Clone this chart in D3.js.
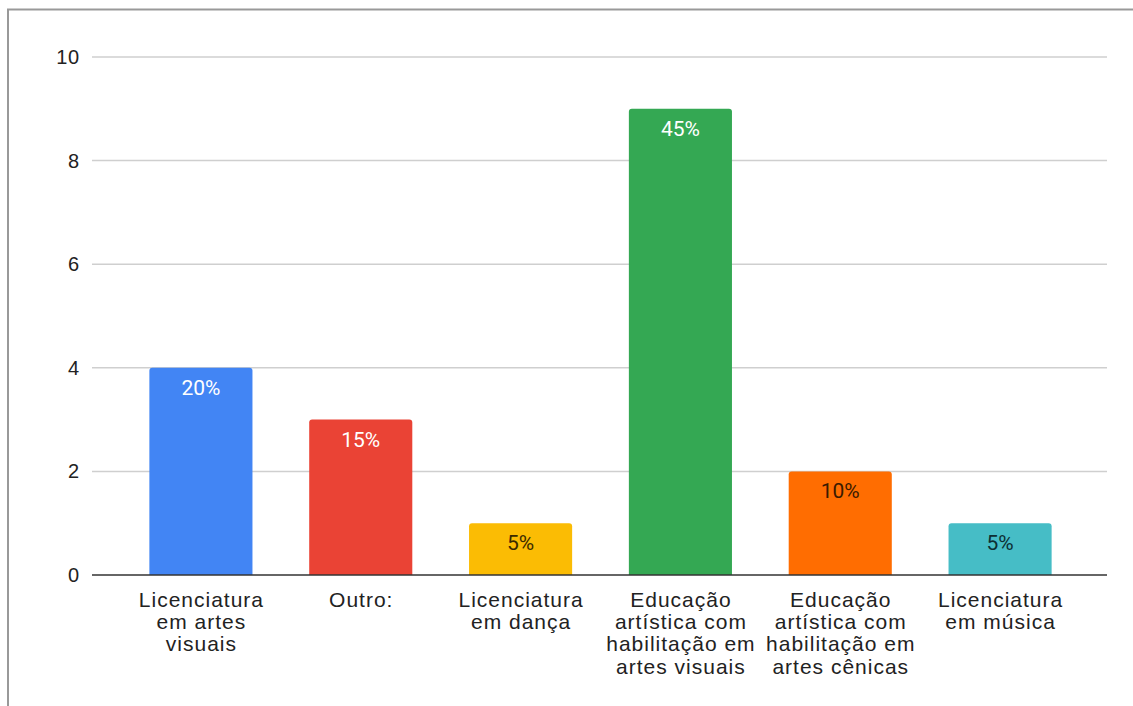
<!DOCTYPE html>
<html><head><meta charset="utf-8">
<script src="https://cdn.jsdelivr.net/npm/d3@7"></script>
<style>body{margin:0;background:#fff;} svg{display:block;}</style>
</head><body>
<script>
const categories = [
  ["Licenciatura","em artes","visuais"],
  ["Outro:"],
  ["Licenciatura","em dança"],
  ["Educação","artística com","habilitação em","artes visuais"],
  ["Educação","artística com","habilitação em","artes cênicas"],
  ["Licenciatura","em música"]
];
const values = [4, 3, 1, 9, 2, 1];
const percentLabels = ["20%","15%","5%","45%","10%","5%"];
const colors = ["#4285F4","#EA4335","#FBBC04","#34A853","#FF6D01","#46BDC6"];
const labelColors = ["#fff","#fff","#3a2a00","#fff","#3a1a00","#0d2f33"];
const yTicks = [0,2,4,6,8,10];

const W = 1133, H = 706;
const svg = d3.select("body").append("svg").attr("width", W).attr("height", H);

// border (left and top)
svg.append("path").attr("d", `M8,${H} L8,9.5 L${W},9.5`).attr("fill","none").attr("stroke","#999").attr("stroke-width",2);

const y = d3.scaleLinear().domain([0,10]).range([575,57]);
const x = d3.scaleBand().domain(d3.range(categories.length)).range([121,1080]).paddingInner(0.355).paddingOuter(0.1775);

// gridlines
svg.append("g").selectAll("line").data(yTicks.filter(d=>d>0)).join("line")
  .attr("x1",92).attr("x2",1107).attr("y1",d=>y(d)).attr("y2",d=>y(d))
  .attr("stroke","#cfcfcf").attr("stroke-width",1.5);

// y tick labels via axis
const yAxis = svg.append("g").attr("transform","translate(92,0)")
  .call(d3.axisLeft(y).tickValues(yTicks).tickSize(0).tickPadding(12));
yAxis.select(".domain").remove();
yAxis.selectAll("text").attr("font-family","Liberation Sans, Arial, sans-serif").attr("font-size",20).attr("letter-spacing",0.8).attr("fill","#222");

// bars with rounded top
const r = 3;
svg.append("g").selectAll("path").data(values).join("path")
  .attr("d",(d,i)=>{
    const x0 = x(i), w = x.bandwidth(), y0 = y(d), y1 = y(0);
    return `M${x0},${y1} L${x0},${y0+r} Q${x0},${y0} ${x0+r},${y0} L${x0+w-r},${y0} Q${x0+w},${y0} ${x0+w},${y0+r} L${x0+w},${y1} Z`;
  })
  .attr("fill",(d,i)=>colors[i]);

// value labels
svg.append("g").selectAll("text").data(values).join("text")
  .attr("x",(d,i)=>x(i)+x.bandwidth()/2)
  .attr("y",d=>y(d)+27)
  .attr("text-anchor","middle")
  .attr("font-family","Roboto, sans-serif").attr("font-size",21)
  .attr("fill",(d,i)=>labelColors[i])
  .text((d,i)=>percentLabels[i]);

// baseline
svg.append("line").attr("x1",92).attr("x2",1107).attr("y1",y(0)).attr("y2",y(0))
  .attr("stroke","#333").attr("stroke-width",1.5);

// category labels
const cl = svg.append("g").selectAll("text").data(categories).join("text")
  .attr("x",(d,i)=>x(i)+x.bandwidth()/2 + 0.5)
  .attr("y",606.5)
  .attr("text-anchor","middle")
  .attr("font-family","Liberation Sans, Arial, sans-serif").attr("font-size",21).attr("letter-spacing",1).attr("fill","#222");
cl.selectAll("tspan").data(d=>d).join("tspan")
  .attr("x",function(){return this.parentNode.getAttribute("x");})
  .attr("dy",(d,j)=>j===0?0:22.4)
  .text(d=>d);
</script>
</body></html>
